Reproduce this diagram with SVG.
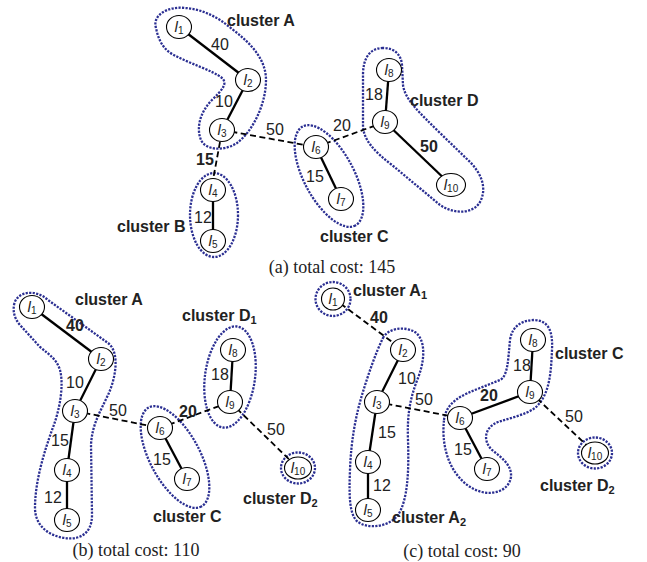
<svg xmlns="http://www.w3.org/2000/svg" width="647" height="562" viewBox="0 0 647 562">
<style>
.n ellipse{fill:#fff;stroke:#000;stroke-width:1.1}
.n text{font-family:"Liberation Sans",Arial,sans-serif;font-size:15px;font-style:italic;text-anchor:middle;fill:#222}
.n tspan{font-size:10px;font-style:normal}
.e{stroke:#000;stroke-width:2.3;fill:none}
.d{stroke:#000;stroke-width:1.8;fill:none;stroke-dasharray:6 3.5}
.c{fill:none;stroke:#2b2f92;stroke-width:2.3;stroke-dasharray:2.2 1.3}
.w{font-family:"Liberation Sans",Arial,sans-serif;font-size:16px;text-anchor:middle;fill:#222}
.b{font-weight:bold}
.cl{font-family:"Liberation Sans",Arial,sans-serif;font-size:16px;font-weight:bold;fill:#222}
.cl tspan{font-size:11px}
.cap{font-family:"Liberation Serif","Times New Roman",serif;font-size:18px;text-anchor:middle;fill:#222}
</style>
<rect width="647" height="562" fill="#fff"/>

<g id="clusters">
  <!-- (a) -->
  <path class="c" d="M156,28 C152,15 168,6 185,8 C202,9 218,17 232,29 C252,44 266,60 266,80 C266,105 252,132 237,143 C225,151 206,151 201,140 C196,128 200,112 212,100 C222,90 228,84 222,78 C212,70 190,64 172,54 C162,48 158,38 156,28 Z"/>
  <ellipse class="c" cx="214" cy="215" rx="24" ry="42"/>
  <ellipse class="c" cx="329" cy="176" rx="56" ry="25" transform="rotate(62 329 176)"/>
  <path class="c" d="M383,48 C370,48 363,58 363,75 L363,125 C363,140 375,152 392,165 L440,205 C455,215 475,214 481,200 C487,186 480,172 470,162 L440,133 C420,113 405,100 403,85 L402,65 C401,54 394,48 383,48 Z"/>
  <!-- (b) -->
  <path class="c" d="M14,305 C16,292 35,288 48,300 L108,343 C120,352 116,378 108,395 C100,412 92,425 91,445 L92,515 C92,535 78,540 65,538 C48,536 35,525 35,508 C35,480 45,450 52,430 C60,410 64,385 60,370 C57,360 50,355 40,347 L20,325 C14,318 13,311 14,305 Z"/>
  <ellipse class="c" cx="175" cy="457" rx="56" ry="25" transform="rotate(62 175 457)"/>
  <ellipse class="c" cx="230" cy="377" rx="25" ry="51" transform="rotate(8 230 377)"/>
  <ellipse class="c" cx="298" cy="468" rx="17" ry="15.5"/>
  <!-- (c) -->
  <ellipse class="c" cx="333" cy="299" rx="17.5" ry="17"/>
  <path class="c" d="M383,338 C388,328 405,326 415,332 C426,340 425,360 418,378 C410,398 407,415 408,440 C409,470 408,500 398,515 C390,526 370,530 358,522 C349,515 349,495 350,470 C351,440 356,415 362,395 C368,375 376,352 383,338 Z"/>
  <path class="c" d="M444,420 C446,402 462,395 480,388 L500,380 C508,376 508,360 510,340 C512,326 522,320 535,320 C548,321 553,330 552,350 C551,372 550,395 535,408 C525,415 510,418 498,422 C485,427 482,440 492,450 C502,458 512,465 511,477 C509,490 495,495 482,492 C465,488 452,472 447,455 C443,442 443,430 444,420 Z"/>
  <ellipse class="c" cx="595" cy="453" rx="17" ry="15.5"/>
</g>

<g id="connectors">
  <!-- (a) -->
  <line class="e" x1="179" y1="27" x2="248" y2="80"/>
  <line class="e" x1="248" y1="80" x2="222" y2="130"/>
  <line class="d" x1="220" y1="142" x2="213" y2="180"/>
  <line class="e" x1="213" y1="190" x2="213" y2="241"/>
  <line class="d" x1="222" y1="130" x2="316" y2="147"/>
  <line class="e" x1="316" y1="147" x2="341" y2="199"/>
  <line class="d" x1="316" y1="147" x2="385" y2="122"/>
  <line class="e" x1="389" y1="70" x2="385" y2="122"/>
  <line class="e" x1="385" y1="122" x2="451" y2="185"/>
  <!-- (b) -->
  <line class="e" x1="32" y1="307" x2="101" y2="359"/>
  <line class="e" x1="101" y1="359" x2="75" y2="411"/>
  <line class="e" x1="75" y1="411" x2="67" y2="470"/>
  <line class="e" x1="67" y1="470" x2="67" y2="520"/>
  <line class="d" x1="75" y1="411" x2="160" y2="428"/>
  <line class="e" x1="160" y1="428" x2="187" y2="479"/>
  <line class="d" x1="160" y1="428" x2="230" y2="402"/>
  <line class="e" x1="233" y1="350" x2="230" y2="402"/>
  <line class="d" x1="230" y1="402" x2="298" y2="468"/>
  <!-- (c) -->
  <line class="d" x1="333" y1="298" x2="403" y2="350"/>
  <line class="e" x1="403" y1="350" x2="377" y2="402"/>
  <line class="e" x1="377" y1="402" x2="368" y2="462"/>
  <line class="e" x1="368" y1="462" x2="368" y2="510"/>
  <line class="d" x1="377" y1="402" x2="460" y2="418"/>
  <line class="e" x1="460" y1="418" x2="487" y2="469"/>
  <line class="e" x1="460" y1="418" x2="530" y2="392"/>
  <line class="e" x1="533" y1="340" x2="530" y2="392"/>
  <line class="d" x1="530" y1="392" x2="595" y2="453"/>
</g>

<!-- (a) nodes -->
<g id="a-l1" class="n"><ellipse cx="179" cy="27" rx="12.5" ry="11.5"/><text x="179" y="32">l<tspan dy="2">1</tspan></text></g>
<g id="a-l2" class="n"><ellipse cx="248" cy="80" rx="12.5" ry="11.5"/><text x="248" y="85">l<tspan dy="2">2</tspan></text></g>
<g id="a-l3" class="n"><ellipse cx="222" cy="130" rx="12.5" ry="11.5"/><text x="222" y="135">l<tspan dy="2">3</tspan></text></g>
<g id="a-l4" class="n"><ellipse cx="213" cy="190" rx="12.5" ry="11.5"/><text x="213" y="195">l<tspan dy="2">4</tspan></text></g>
<g id="a-l5" class="n"><ellipse cx="213" cy="241" rx="12.5" ry="11.5"/><text x="213" y="246">l<tspan dy="2">5</tspan></text></g>
<g id="a-l6" class="n"><ellipse cx="316" cy="147" rx="12.5" ry="11.5"/><text x="316" y="152">l<tspan dy="2">6</tspan></text></g>
<g id="a-l7" class="n"><ellipse cx="341" cy="199" rx="12.5" ry="11.5"/><text x="341" y="204">l<tspan dy="2">7</tspan></text></g>
<g id="a-l8" class="n"><ellipse cx="389" cy="70" rx="12.5" ry="11.5"/><text x="389" y="75">l<tspan dy="2">8</tspan></text></g>
<g id="a-l9" class="n"><ellipse cx="385" cy="122" rx="12.5" ry="11.5"/><text x="385" y="127">l<tspan dy="2">9</tspan></text></g>
<g id="a-l10" class="n"><ellipse cx="451" cy="185" rx="14.5" ry="11.5"/><text x="451" y="190">l<tspan dy="2">10</tspan></text></g>

<!-- (b) nodes -->
<g id="b-l1" class="n"><ellipse cx="32" cy="307" rx="12.5" ry="11.5"/><text x="32" y="312">l<tspan dy="2">1</tspan></text></g>
<g id="b-l2" class="n"><ellipse cx="101" cy="359" rx="12.5" ry="11.5"/><text x="101" y="364">l<tspan dy="2">2</tspan></text></g>
<g id="b-l3" class="n"><ellipse cx="75" cy="411" rx="12.5" ry="11.5"/><text x="75" y="416">l<tspan dy="2">3</tspan></text></g>
<g id="b-l4" class="n"><ellipse cx="67" cy="470" rx="12.5" ry="11.5"/><text x="67" y="475">l<tspan dy="2">4</tspan></text></g>
<g id="b-l5" class="n"><ellipse cx="67" cy="520" rx="12.5" ry="11.5"/><text x="67" y="525">l<tspan dy="2">5</tspan></text></g>
<g id="b-l6" class="n"><ellipse cx="160" cy="428" rx="12.5" ry="11.5"/><text x="160" y="433">l<tspan dy="2">6</tspan></text></g>
<g id="b-l7" class="n"><ellipse cx="187" cy="479" rx="12.5" ry="11.5"/><text x="187" y="484">l<tspan dy="2">7</tspan></text></g>
<g id="b-l8" class="n"><ellipse cx="233" cy="350" rx="12.5" ry="11.5"/><text x="233" y="355">l<tspan dy="2">8</tspan></text></g>
<g id="b-l9" class="n"><ellipse cx="230" cy="402" rx="12.5" ry="11.5"/><text x="230" y="407">l<tspan dy="2">9</tspan></text></g>
<g id="b-l10" class="n"><ellipse cx="298" cy="468" rx="13.5" ry="11"/><text x="298" y="473">l<tspan dy="2">10</tspan></text></g>

<!-- (c) nodes -->
<g id="c-l1" class="n"><ellipse cx="333" cy="299" rx="11.5" ry="11"/><text x="333" y="304">l<tspan dy="2">1</tspan></text></g>
<g id="c-l2" class="n"><ellipse cx="403" cy="350" rx="12.5" ry="11.5"/><text x="403" y="355">l<tspan dy="2">2</tspan></text></g>
<g id="c-l3" class="n"><ellipse cx="377" cy="402" rx="12.5" ry="11.5"/><text x="377" y="407">l<tspan dy="2">3</tspan></text></g>
<g id="c-l4" class="n"><ellipse cx="368" cy="462" rx="12.5" ry="11.5"/><text x="368" y="467">l<tspan dy="2">4</tspan></text></g>
<g id="c-l5" class="n"><ellipse cx="368" cy="510" rx="12.5" ry="11.5"/><text x="368" y="515">l<tspan dy="2">5</tspan></text></g>
<g id="c-l6" class="n"><ellipse cx="460" cy="418" rx="12.5" ry="11.5"/><text x="460" y="423">l<tspan dy="2">6</tspan></text></g>
<g id="c-l7" class="n"><ellipse cx="487" cy="469" rx="12.5" ry="11.5"/><text x="487" y="474">l<tspan dy="2">7</tspan></text></g>
<g id="c-l8" class="n"><ellipse cx="533" cy="340" rx="12.5" ry="11.5"/><text x="533" y="345">l<tspan dy="2">8</tspan></text></g>
<g id="c-l9" class="n"><ellipse cx="530" cy="392" rx="12.5" ry="11.5"/><text x="530" y="397">l<tspan dy="2">9</tspan></text></g>
<g id="c-l10" class="n"><ellipse cx="595" cy="453" rx="13.5" ry="11"/><text x="595" y="458">l<tspan dy="2">10</tspan></text></g>

<g id="labels">
  <!-- (a) -->
  <text class="cl" x="227" y="26">cluster A</text>
  <text class="w" x="220" y="50">40</text>
  <text class="w" x="224" y="107">10</text>
  <text class="w b" x="205" y="165">15</text>
  <text class="w" x="203" y="223">12</text>
  <text class="cl" x="117" y="232">cluster B</text>
  <text class="w" x="275" y="135">50</text>
  <text class="w" x="342" y="131">20</text>
  <text class="w" x="315" y="182">15</text>
  <text class="cl" x="320" y="242">cluster C</text>
  <text class="w" x="374" y="100">18</text>
  <text class="cl" x="410" y="106">cluster D</text>
  <text class="w b" x="429" y="152">50</text>
  <text class="cap" x="332" y="273">(a) total cost: 145</text>
  <!-- (b) -->
  <text class="cl" x="75" y="305">cluster A</text>
  <text class="w b" x="75" y="331">40</text>
  <text class="w" x="75" y="388">10</text>
  <text class="w" x="60" y="446">15</text>
  <text class="w" x="53" y="503">12</text>
  <text class="w" x="118" y="416">50</text>
  <text class="w b" x="188" y="417">20</text>
  <text class="w" x="162" y="465">15</text>
  <text class="w" x="220" y="380">18</text>
  <text class="w" x="276" y="435">50</text>
  <text class="cl" x="182" y="321">cluster D<tspan dy="3">1</tspan></text>
  <text class="cl" x="243" y="504">cluster D<tspan dy="3">2</tspan></text>
  <text class="cl" x="153" y="522">cluster C</text>
  <text class="cap" x="136" y="556">(b) total cost: 110</text>
  <!-- (c) -->
  <text class="cl" x="353" y="296">cluster A<tspan dy="3">1</tspan></text>
  <text class="w b" x="379" y="323">40</text>
  <text class="w" x="407" y="384">10</text>
  <text class="w" x="424" y="405">50</text>
  <text class="w" x="387" y="438">15</text>
  <text class="w" x="382" y="491">12</text>
  <text class="cl" x="392" y="523">cluster A<tspan dy="3">2</tspan></text>
  <text class="w b" x="489" y="401">20</text>
  <text class="w" x="463" y="455">15</text>
  <text class="w" x="522" y="371">18</text>
  <text class="cl" x="555" y="359">cluster C</text>
  <text class="w" x="574" y="422">50</text>
  <text class="cl" x="540" y="491">cluster D<tspan dy="3">2</tspan></text>
  <text class="cap" x="462" y="557">(c) total cost: 90</text>
</g>
</svg>
